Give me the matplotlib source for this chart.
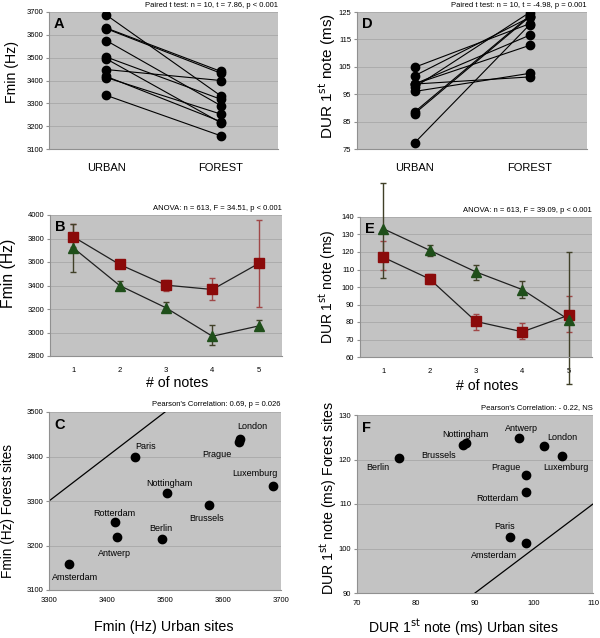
import matplotlib.pyplot as plt

plt.rcParams['font.family'] = ['Liberation Sans', 'DejaVu Sans']

# ---- data ----
cities = ["Amsterdam", "Antwerp", "Rotterdam", "Paris", "Berlin",
          "Nottingham", "Brussels", "Prague", "London", "Luxemburg"]
fmin_urban = [3335, 3418, 3413, 3448, 3495, 3503, 3575, 3627, 3630, 3687]
fmin_forest = [3158, 3220, 3253, 3400, 3215, 3318, 3290, 3432, 3440, 3333]
dur_urban = [98.7, 97.5, 98.7, 96.0, 77.2, 88.5, 87.9, 98.7, 101.7, 104.8]
dur_forest = [101.3, 124.8, 112.8, 102.6, 120.3, 123.6, 123.2, 116.5, 123.0, 120.7]

notes = [1, 2, 3, 4, 5]
fmin_red = [3815, 3579, 3403, 3366, 3588]
fmin_red_lo = [3730, 3560, 3355, 3280, 3218]
fmin_red_hi = [3920, 3600, 3450, 3460, 3957]
fmin_green = [3721, 3400, 3210, 2968, 3056]
fmin_green_lo = [3517, 3360, 3175, 2890, 3020]
fmin_green_hi = [3925, 3440, 3260, 3060, 3105]

dur_red = [117.0, 104.6, 80.3, 74.4, 83.9]
dur_red_lo = [109.6, 101.8, 75.6, 70.5, 74.1]
dur_red_hi = [126.5, 107.5, 84.3, 79.5, 95.1]
dur_green = [133.3, 121.0, 108.6, 98.5, 81.3]
dur_green_lo = [105.0, 117.9, 104.0, 93.7, 44.3]
dur_green_hi = [159.5, 123.9, 112.6, 103.7, 120.1]

# label offsets for scatter names (points)
c_offsets = {"Amsterdam": (-12.5, -11.5), "Antwerp": (-14, -14), "Rotterdam": (-15, 4.5),
             "Paris": (0, 5.5), "Berlin": (-9.5, 5.5), "Nottingham": (-15, 5),
             "Brussels": (-13.5, -11.5), "Prague": (-26, -10.5), "London": (-2, 7),
             "Luxemburg": (-30, 7.5)}
f_offsets = {"Amsterdam": (-40, -11), "Antwerp": (-10.5, 5.5), "Rotterdam": (-36, -6.5),
             "Paris": (-11.5, 6), "Berlin": (-24, -8.5), "Nottingham": (-17, 5),
             "Brussels": (-30, -9), "Prague": (-25, 4), "London": (2.3, 4.5),
             "Luxemburg": (-14, -10)}

BG = "#c3c3c3"
RED = "#8b0a0a"
RED_ERR = "#a04848"
GREEN = "#1f4f1a"
GREEN_ERR = "#404028"

fig = plt.figure(figsize=(6, 6.38), dpi=100)
W, H = 600.0, 638.0


def make_ax(l, r, t, b):
    ax = fig.add_axes([l / W, 1 - b / H, (r - l) / W, (b - t) / H])
    ax.set_facecolor(BG)
    for s in ["top", "right"]:
        ax.spines[s].set_visible(False)
    for s in ["left", "bottom"]:
        ax.spines[s].set_color("#909090")
        ax.spines[s].set_linewidth(0.8)
    ax.yaxis.grid(True, color="#a8a8a8", linewidth=0.6)
    ax.set_axisbelow(True)
    ax.tick_params(labelsize=5.5, length=2, color="#909090", pad=2)
    return ax


def stat(ax, txt):
    ax.text(1.0, 1.02, txt, transform=ax.transAxes, ha="right", va="bottom", fontsize=5.5)


def letter(ax, s):
    ax.text(0.022, 0.965, s, transform=ax.transAxes, ha="left", va="top",
            fontsize=10.5, fontweight="bold")


# label helpers in pixel positions (centre of text)
def ylab(x, y, s, size):
    fig.text(x / W, 1 - y / H, s, rotation=90, ha="center", va="center", fontsize=size)


def xlab(x, y, s, size):
    fig.text(x / W, 1 - y / H, s, ha="center", va="center", fontsize=size)


# ---- A ----
ax = make_ax(49, 278, 12, 149)
for u, f in zip(fmin_urban, fmin_forest):
    ax.plot([0, 1], [u, f], color="black", lw=0.8, marker="o", ms=6)
ax.set_xlim(-0.5, 1.5)
ax.set_ylim(3100, 3700)
ax.set_yticks(range(3100, 3701, 100))
ax.set_xticks([0, 1])
ax.set_xticklabels(["URBAN", "FOREST"], fontsize=8)
ax.tick_params(axis="x", length=0, pad=10)
letter(ax, "A")
stat(ax, "Paired t test: n = 10, t = 7.86, p < 0.001")
ylab(12, 72, "Fmin (Hz)", 10.2)

# ---- D ----
ax = make_ax(357, 587, 12, 149)
for u, f in zip(dur_urban, dur_forest):
    ax.plot([0, 1], [u, f], color="black", lw=0.8, marker="o", ms=6)
ax.set_xlim(-0.5, 1.5)
ax.set_ylim(75, 125)
ax.set_yticks(range(75, 126, 10))
ax.set_xticks([0, 1])
ax.set_xticklabels(["URBAN", "FOREST"], fontsize=8)
ax.tick_params(axis="x", length=0, pad=10)
letter(ax, "D")
stat(ax, "Paired t test: n = 10, t = -4.98, p = 0.001")
ylab(327, 76, "DUR 1$^{\\rm st}$ note (ms)", 11)


def line_err(ax, x, y, lo, hi, color, ecolor, marker, ms):
    yerr = [[a - b for a, b in zip(y, lo)], [b - a for a, b in zip(y, hi)]]
    eb = ax.errorbar(x, y, yerr=yerr, fmt="none", ecolor=ecolor, elinewidth=1,
                     capsize=2.5, capthick=1)
    for art in list(eb.lines[1]) + list(eb.lines[2]):
        art.set_clip_on(False)
    ax.plot(x, y, color="#202020", lw=0.9, zorder=3)
    ax.plot(x, y, linestyle="none", marker=marker, ms=ms, color=color,
            markeredgecolor=color, zorder=4)


# ---- B ----
ax = make_ax(50, 282, 215, 356)
line_err(ax, notes, fmin_red, fmin_red_lo, fmin_red_hi, RED, RED_ERR, "s", 7)
line_err(ax, notes, fmin_green, fmin_green_lo, fmin_green_hi, GREEN, GREEN_ERR, "^", 7)
ax.set_xlim(0.5, 5.5)
ax.set_ylim(2800, 4000)
ax.set_yticks(range(2800, 4001, 200))
ax.set_xticks(notes)
ax.tick_params(axis="x", length=0, pad=8)
letter(ax, "B")
stat(ax, "ANOVA: n = 613, F = 34.51, p < 0.001")
ylab(9, 273, "Fmin (Hz)", 11.3)
xlab(177, 383, "# of notes", 10.2)

# ---- E ----
ax = make_ax(360, 592, 217, 357)
line_err(ax, notes, dur_red, dur_red_lo, dur_red_hi, RED, RED_ERR, "s", 7)
line_err(ax, notes, dur_green, dur_green_lo, dur_green_hi, GREEN, GREEN_ERR, "^", 7)
ax.set_xlim(0.5, 5.5)
ax.set_ylim(60, 140)
ax.set_yticks(range(60, 141, 10))
ax.set_xticks(notes)
ax.tick_params(axis="x", length=0, pad=8)
letter(ax, "E")
stat(ax, "ANOVA: n = 613, F = 39.09, p < 0.001")
ylab(328, 287, "DUR 1$^{\\rm st}$ note (ms)", 10)
xlab(487, 386, "# of notes", 10.2)

# ---- C ----
ax = make_ax(49, 281, 412, 590)
ax.plot([3300, 3500], [3300, 3500], color="black", lw=0.9)
ax.plot(fmin_urban, fmin_forest, linestyle="none", marker="o", ms=6, color="black")
for name, u, f in zip(cities, fmin_urban, fmin_forest):
    ax.annotate(name, (u, f), xytext=c_offsets[name], textcoords="offset points",
                fontsize=6.5)
ax.set_xlim(3300, 3700)
ax.set_ylim(3100, 3500)
ax.set_xticks(range(3300, 3701, 100))
ax.set_yticks(range(3100, 3501, 100))
ax.tick_params(axis="x", length=0, pad=5)
letter(ax, "C")
stat(ax, "Pearson's Correlation: 0.69, p = 0.026")
ylab(8, 511, "Fmin (Hz) Forest sites", 9.8)
xlab(164, 627, "Fmin (Hz) Urban sites", 10.3)

# ---- F ----
ax = make_ax(357, 593, 415, 593)
ax.plot([90, 110], [90, 110], color="black", lw=0.9)
ax.plot(dur_urban, dur_forest, linestyle="none", marker="o", ms=6, color="black")
for name, u, f in zip(cities, dur_urban, dur_forest):
    ax.annotate(name, (u, f), xytext=f_offsets[name], textcoords="offset points",
                fontsize=6.5)
ax.set_xlim(70, 110)
ax.set_ylim(90, 130)
ax.set_xticks(range(70, 111, 10))
ax.set_yticks(range(90, 131, 10))
ax.tick_params(axis="x", length=0, pad=5)
letter(ax, "F")
stat(ax, "Pearson's Correlation: - 0.22, NS")
ylab(329, 498, "DUR 1$^{\\rm st}$ note (ms) Forest sites", 10.2)
xlab(463, 628, "DUR 1$^{\\rm st}$ note (ms) Urban sites", 10.1)

fig.savefig("out.png", dpi=100)
